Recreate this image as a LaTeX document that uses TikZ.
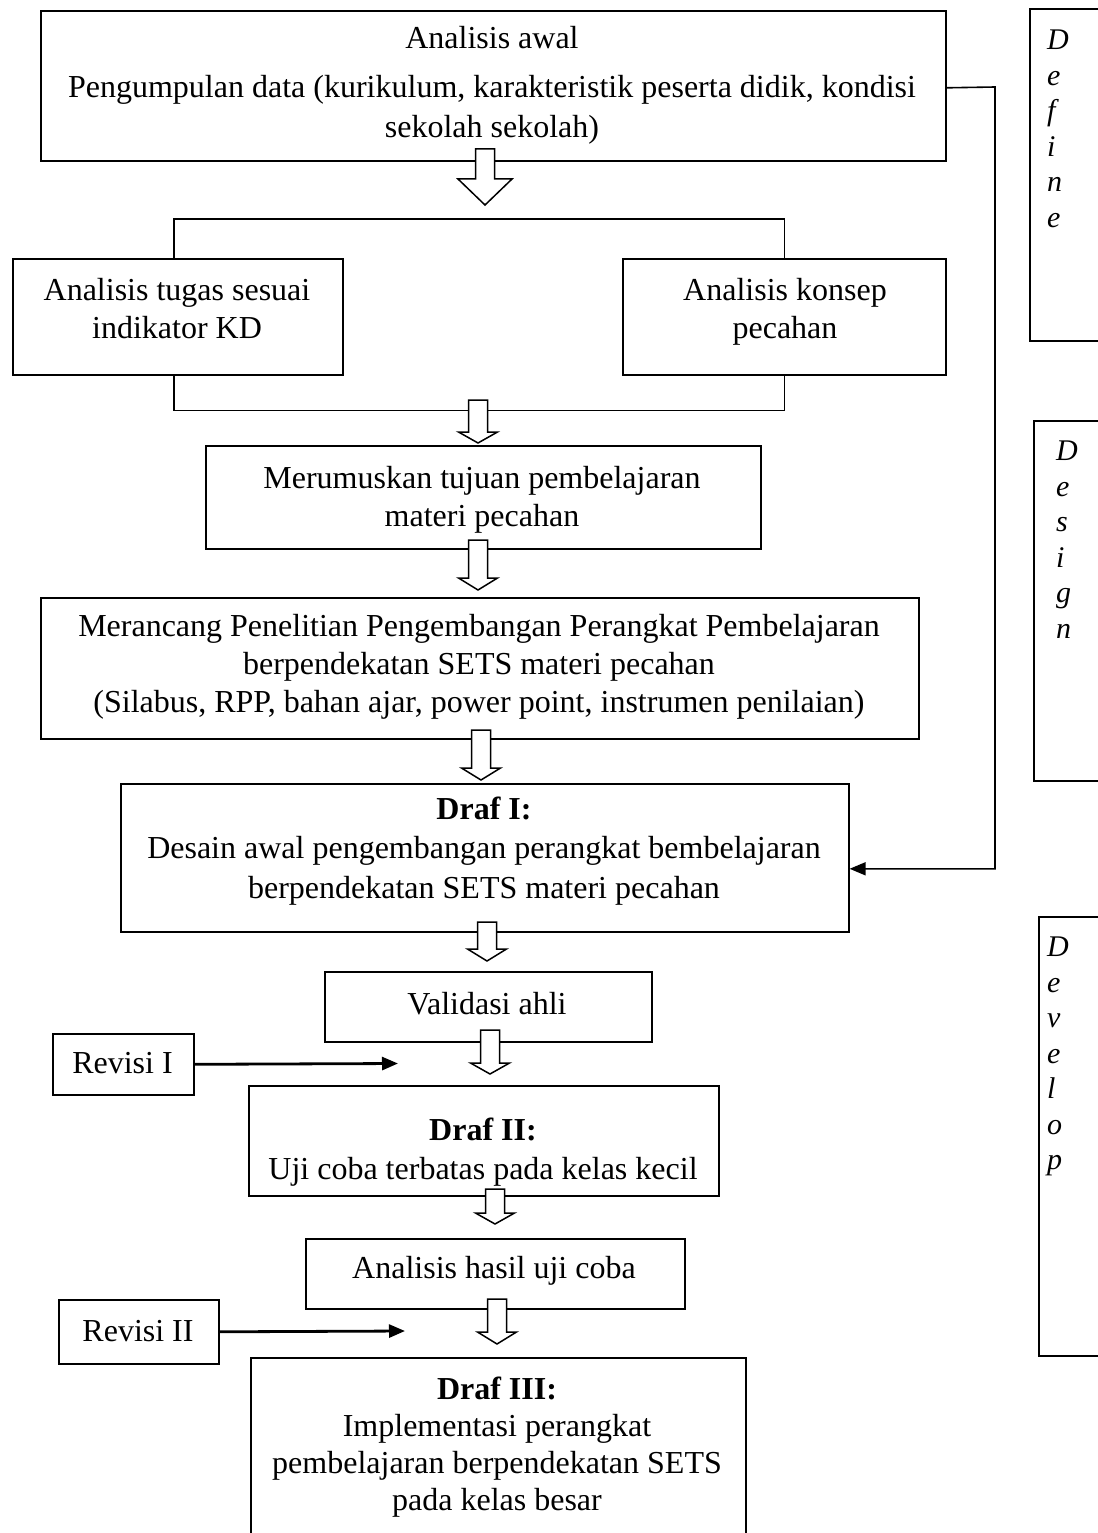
\documentclass[tikz,border=0pt]{standalone}
\usepackage{fontspec}
\setmainfont{Liberation Serif}
\usetikzlibrary{arrows.meta,calc}
\newcommand{\blkarrow}[5]{% cx, top, headtop, tip, head half width
  \draw[line width=1.5pt, fill=white, line join=miter]
    (#1-9.5,#2) -- (#1+9.5,#2) -- (#1+9.5,#3) -- (#1+#5,#3) -- (#1,#4)
    -- (#1-#5,#3) -- (#1-9.5,#3) -- cycle;}
\begin{document}
\begin{tikzpicture}[x=1pt,y=-1pt,
  box/.style={draw, line width=1.6pt, rectangle, inner sep=0pt, anchor=north west},
  txt/.style={align=center, inner sep=0pt, anchor=north, font=\fontsize{32}{38}\selectfont},
  conn/.style={line width=1.6pt},
  revarrow/.style={line width=2.8pt, -{Triangle[length=16pt,width=13pt]}},
  phase/.style={align=left, inner sep=0pt, anchor=north west, font=\fontsize{30}{35.5}\selectfont\itshape},
]
\useasboundingbox (0,0) rectangle (1097,1533);
\fill[white] (0,0) rectangle (1097,1533);

% main boxes
\node[box, minimum width=905pt, minimum height=150pt] (b1) at (40,10) {};
\node[box, minimum width=330pt, minimum height=116pt] (b2) at (12,258) {};
\node[box, minimum width=323pt, minimum height=116pt] (b3) at (622,258) {};
\node[box, minimum width=555pt, minimum height=103pt] (b4) at (205,445) {};
\node[box, minimum width=878pt, minimum height=141pt] (b5) at (40,597) {};
\node[box, minimum width=728pt, minimum height=148pt] (b6) at (120,783) {};
\node[box, minimum width=327pt, minimum height=70pt] (b7) at (324,971) {};
\node[box, minimum width=470pt, minimum height=110pt] (b8) at (248,1085) {};
\node[box, minimum width=379pt, minimum height=70pt] (b9) at (305,1238) {};
\node[box, minimum width=495pt, minimum height=220pt] (b10) at (250,1357) {};
\node[box, minimum width=141pt, minimum height=61pt] (r1) at (52,1033) {};
\node[box, minimum width=160pt, minimum height=64pt] (r2) at (58,1299) {};

% phase boxes
\node[box, minimum width=120pt, minimum height=332pt] (p1) at (1029,8) {};
\node[box, minimum width=120pt, minimum height=360pt] (p2) at (1033,420) {};
\node[box, minimum width=120pt, minimum height=439pt] (p3) at (1038,916) {};

% texts
\node[txt, font=\fontsize{32}{40}\selectfont] (t1) at (492,26.5) {Analisis awal\\[9pt]Pengumpulan data (kurikulum, karakteristik peserta didik, kondisi\\sekolah sekolah)};
\node[txt] (t2) at (177,278.5) {Analisis tugas sesuai\\indikator KD};
\node[txt] (t3) at (785,278.5) {Analisis konsep\\pecahan};
\node[txt] (t4) at (482,466.5) {Merumuskan tujuan pembelajaran\\materi pecahan};
\node[txt] (t5) at (479,614.5) {Merancang Penelitian Pengembangan Perangkat Pembelajaran\\berpendekatan SETS materi pecahan\\(Silabus, RPP, bahan ajar, power point, instrumen penilaian)};
\node[txt, font=\fontsize{32}{39.5}\selectfont] (t6) at (484,796.5) {\textbf{Draf I:}\\Desain awal pengembangan perangkat bembelajaran\\berpendekatan SETS materi pecahan};
\node[txt] (t7) at (487,992.5) {Validasi ahli};
\node[txt] (tr1) at (122.5,1052.5) {Revisi I};
\node[txt, font=\fontsize{32}{39}\selectfont] (t8) at (483,1117.5) {\textbf{Draf II:}\\Uji coba terbatas pada kelas kecil};
\node[txt] (t9) at (494,1256.5) {Analisis hasil uji coba};
\node[txt] (tr2) at (138,1320.5) {Revisi II};
\node[txt, font=\fontsize{32}{37}\selectfont] (t10) at (497,1376.5) {\textbf{Draf III:}\\Implementasi perangkat\\pembelajaran berpendekatan SETS\\pada kelas besar};

\node[phase] (l1) at (1047,30) {D\\e\\f\\i\\n\\e};
\node[phase] (l2) at (1056,441) {D\\e\\s\\i\\g\\n};
\node[phase] (l3) at (1047,937) {D\\e\\v\\e\\l\\o\\p};

% connectors
\coordinate (c1) at (995,87);
\draw[conn, -{Triangle[length=16pt,width=13pt]}] ($(b1.east)+(0,2)$) -- (c1) |- ($(b6.east)+(0,11)$);
\draw[conn] ($(b2.north)+(-4,0)$) -- ++(0,-39) -| (b3.north);
\draw[conn] ($(b2.south)+(-4,0)$) -- ++(0,35) -| (b3.south);
\coordinate (r1end) at (398,1063.5);
\coordinate (r2end) at (405,1331);
\draw[revarrow] (r1.east) -- (r1end);
\draw[revarrow] (r2.east) -- (r2end);

% block arrows
\blkarrow{485}{149}{179}{205}{27}
\blkarrow{478}{400}{432}{443}{19.5}
\blkarrow{478}{540}{578}{590}{19.5}
\blkarrow{481}{730}{768}{780}{19.5}
\blkarrow{487}{922}{949}{961}{19.5}
\blkarrow{490}{1030}{1063}{1074}{19.5}
\blkarrow{495}{1189}{1213}{1224}{19.5}
\blkarrow{497}{1299}{1332}{1344}{19.5}
\end{tikzpicture}
\end{document}
